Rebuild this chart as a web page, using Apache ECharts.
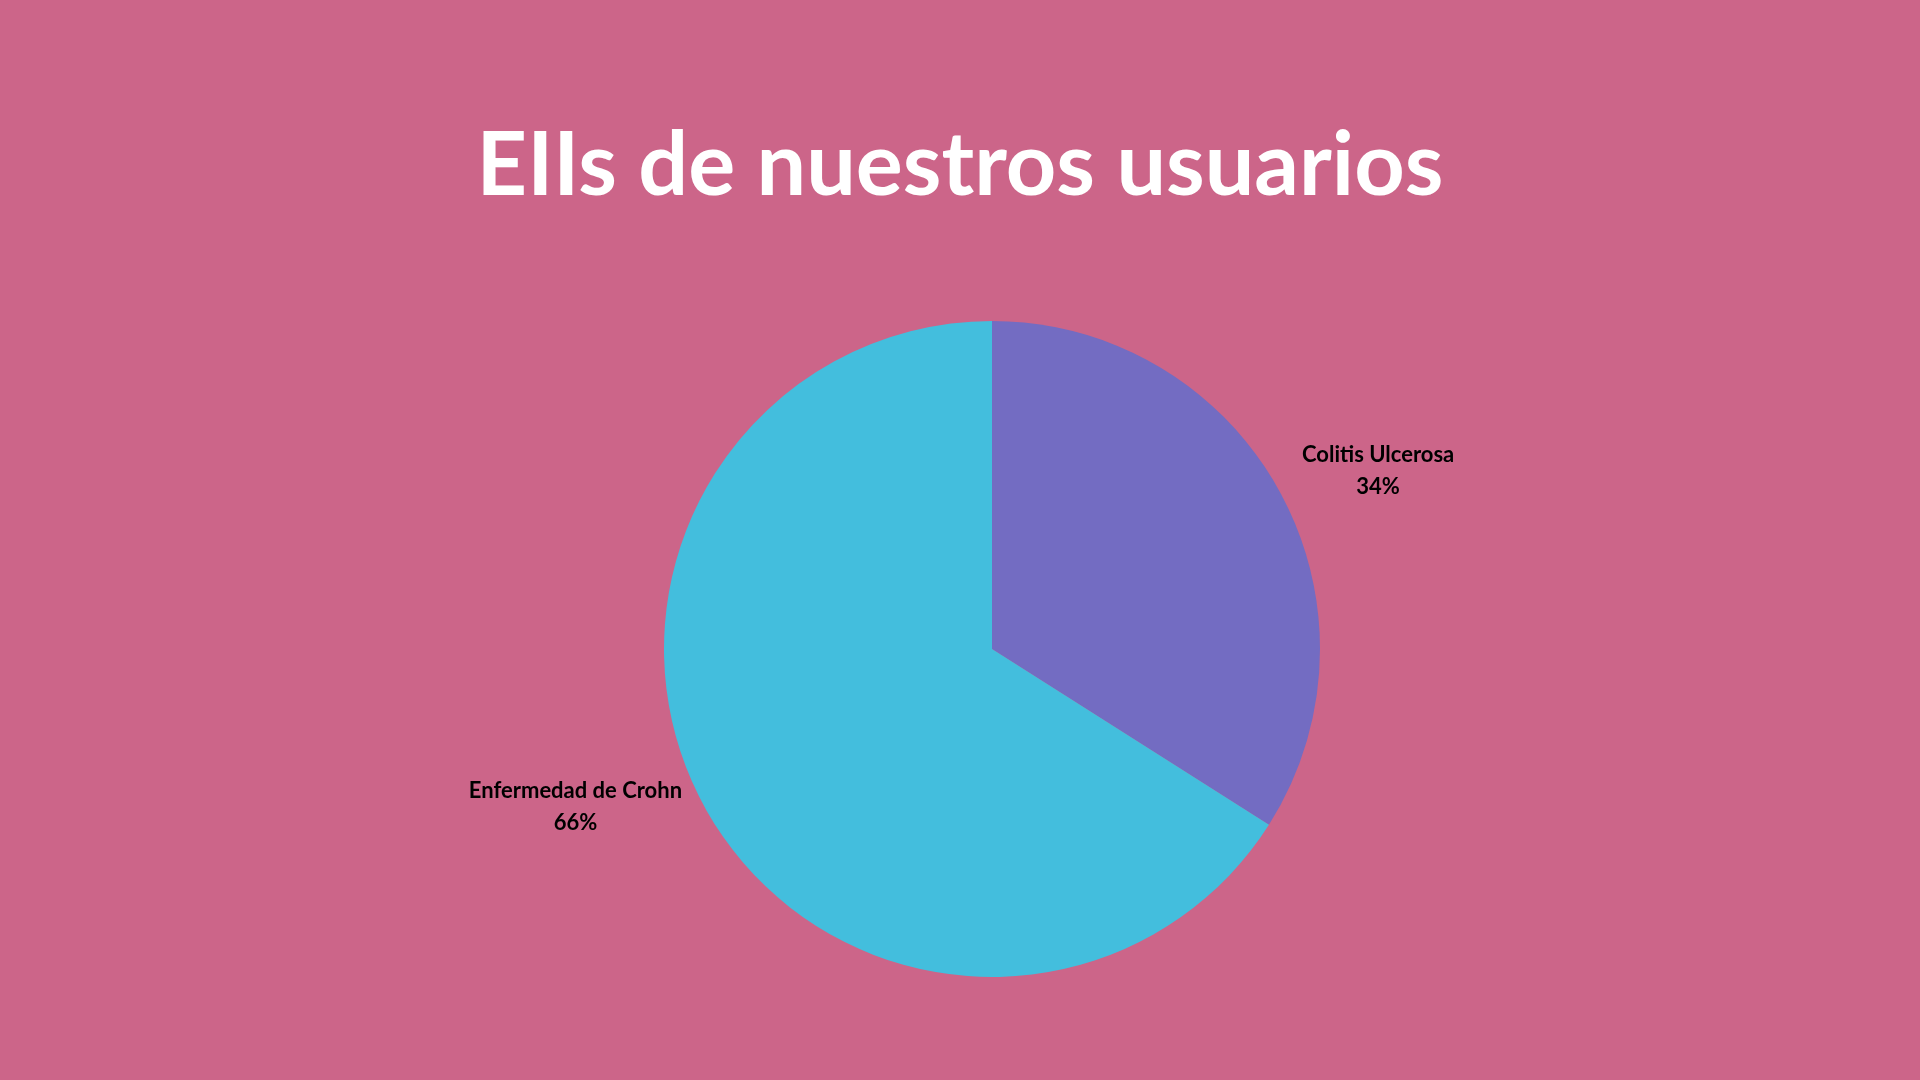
<!DOCTYPE html>
<html><head><meta charset="utf-8">
<script src="https://cdn.jsdelivr.net/npm/echarts@6/dist/echarts.min.js"></script>
<style>html,body{margin:0;padding:0;background:#CC6589}#c{width:1920px;height:1080px}</style>
</head><body><div id="c"></div>
<script>
const categories = ["Colitis Ulcerosa", "Enfermedad de Crohn"];
const values = [34, 66];
const colors = ["#736CC2", "#43BEDD"];
const chart = echarts.init(document.getElementById('c'));
chart.setOption({
  backgroundColor: '#CC6589',
  title: {
    text: 'EIIs de nuestros usuarios', left: 'center', top: 118,
    textStyle: { color: '#fff', fontSize: 88, fontWeight: 'bold', fontFamily: 'Lato' }
  },
  series: [{
    type: 'pie', center: [992, 649], radius: 328, startAngle: 90, clockwise: true,
    silent: true,
    data: categories.map((n, i) => ({ name: n, value: values[i], itemStyle: { color: colors[i] } })),
    label: {
      show: true, position: 'outside', formatter: '{b}\n{d}%',
      color: '#000', fontSize: 22, fontWeight: 'bold', fontFamily: 'Lato',
      lineHeight: 32
    },
    labelLine: { show: false, length: 20, length2: 0 },
    labelLayout: function (p) {
      return { x: p.labelRect.x + p.labelRect.width / 2, y: p.labelRect.y + p.labelRect.height / 2 - 10,
               align: 'center', verticalAlign: 'middle' };
    }
  }]
});
</script></body></html>
